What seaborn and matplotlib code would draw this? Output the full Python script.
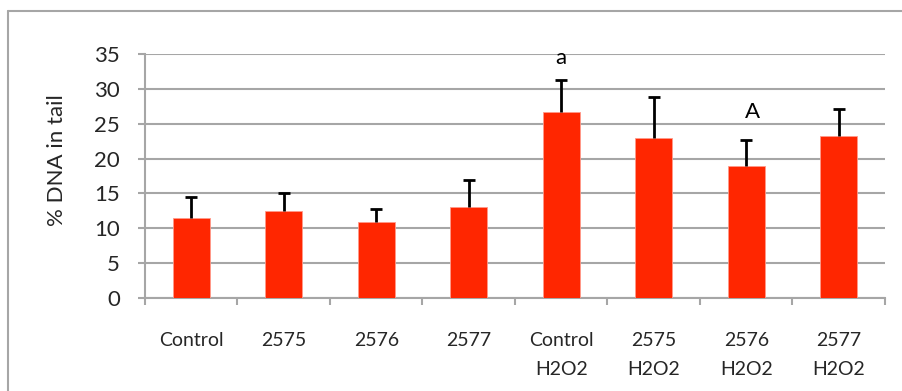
import matplotlib
matplotlib.use("Agg")
import matplotlib.pyplot as plt
from matplotlib.lines import Line2D
import numpy as np
import pandas as pd
import seaborn as sns

# Comet assay: mean % DNA in tail with upper error bars
categories = ["Control", "2575", "2576", "2577",
              "Control\nH2O2", "2575\nH2O2", "2576\nH2O2", "2577\nH2O2"]
dna_in_tail = [11.5, 12.4, 10.9, 13.0, 26.7, 22.9, 19.0, 23.2]
error_upper = [3.0, 2.7, 1.85, 3.9, 4.6, 6.0, 3.7, 4.0]
sig_labels = ["", "", "", "", "a", "", "A", ""]
sig_heights = [0, 0, 0, 0, 34.4, 0, 26.7, 0]
y_ticks = [0, 5, 10, 15, 20, 25, 30, 35]

df = pd.DataFrame({"group": categories, "value": dna_in_tail})

sns.set_theme(style="white")
plt.rcParams["font.family"] = ["Lato", "DejaVu Sans"]

W, H = 903, 391
fig = plt.figure(figsize=(W / 100, H / 100), dpi=100)
ax = fig.add_axes([145 / W, 1 - 297.7 / H, (885 - 145) / W, (297.7 - 54.3) / H])

grid_c = "#a6a6a6"
bar_c = "#ff2600"

sns.barplot(data=df, x="group", y="value", color=bar_c, width=0.4,
            saturation=1, errorbar=None, ax=ax, zorder=3,
            edgecolor="#ff9a8a", linewidth=0.6)

# upper-only error bars: stem from bar top, cap at mean + error
xpos = np.arange(len(categories))
means = np.array(dna_in_tail)
tops = means + np.array(error_upper)
cap_half = 0.065
ax.vlines(xpos, means, tops, color="black", linewidth=2, zorder=4)
ax.hlines(tops, xpos - cap_half, xpos + cap_half, color="black",
          linewidth=2, zorder=4)

for x, lab, h in zip(xpos, sig_labels, sig_heights):
    if lab:
        dx = 0.07 if lab == "A" else 0.0
        ax.text(x + dx, h, lab, ha="center", va="center", fontsize=16,
                color="black", zorder=5)

ax.set_ylim(0, 35)
ax.set_xlim(-0.5, len(categories) - 0.5)
ax.set_yticks(y_ticks)
ax.set_yticklabels([str(t) for t in y_ticks], fontsize=16)
ax.yaxis.grid(True, color=grid_c, linewidth=1.5, zorder=0)
ax.set_axisbelow(True)

# category labels centred under bars, tick marks at category boundaries
ax.set_xticks(xpos)
ax.set_xticklabels(categories, fontsize=14, linespacing=1.85, va="top")
ax.tick_params(axis="x", which="major", length=0, pad=25)
ax.set_xticks(np.arange(-0.5, len(categories)), minor=True)
ax.tick_params(axis="x", which="minor", length=5, width=1.5, color=grid_c,
               direction="out", bottom=True)
ax.tick_params(axis="y", length=5, width=1.5, color=grid_c, pad=13,
               direction="out", left=True)

ax.set_xlabel("")
ax.set_ylabel("% DNA in tail", fontsize=16)
ax.yaxis.set_label_coords(-0.105, 0.566)

for side in ["top", "right"]:
    ax.spines[side].set_visible(False)
for side in ["left", "bottom"]:
    ax.spines[side].set_color(grid_c)
    ax.spines[side].set_linewidth(1.5)

# chart-area frame
fig.add_artist(Line2D([7.5 / W, 7.5 / W], [0, 1 - 11 / H],
                      transform=fig.transFigure, color=grid_c, linewidth=1.5))
fig.add_artist(Line2D([7.5 / W, 1], [1 - 11 / H, 1 - 11 / H],
                      transform=fig.transFigure, color=grid_c, linewidth=1.5))

fig.savefig("out.png", dpi=100, facecolor="white")
